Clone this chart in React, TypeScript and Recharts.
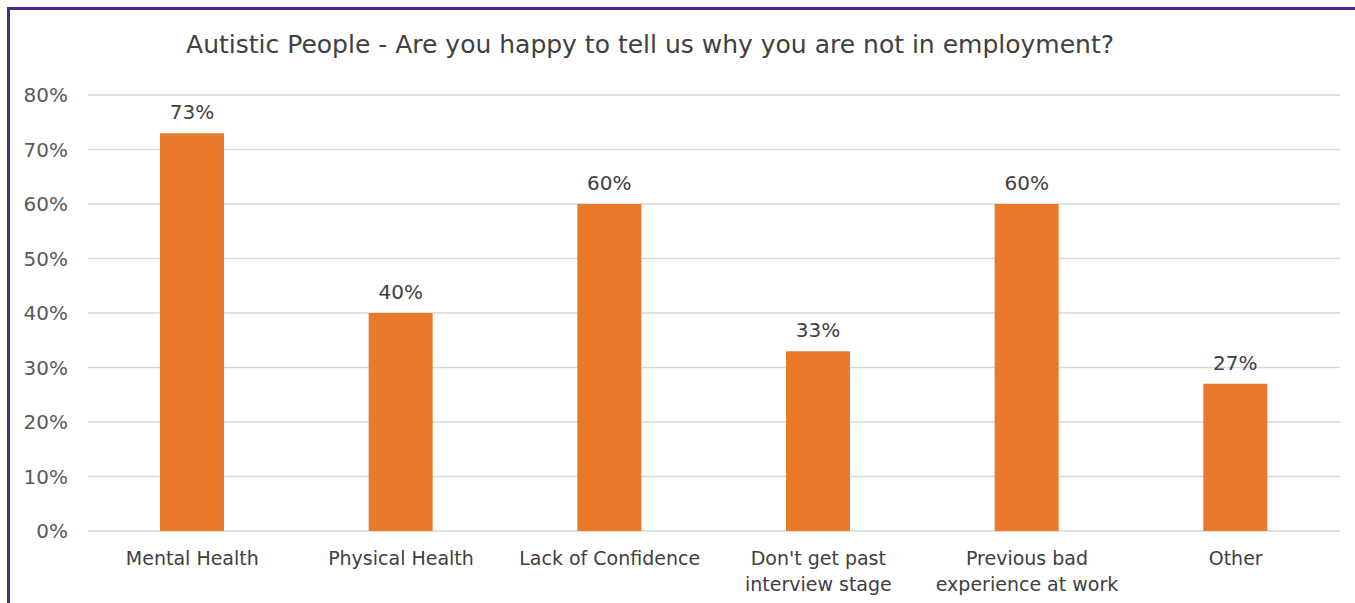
import React from "react";
import { BarChart, Bar, XAxis, YAxis, CartesianGrid, LabelList } from "recharts";

const categories = [
  "Mental Health",
  "Physical Health",
  "Lack of Confidence",
  "Don't get past\ninterview stage",
  "Previous bad\nexperience at work",
  "Other",
];
const values = [73, 40, 60, 33, 60, 27];
const yTicks = [0, 10, 20, 30, 40, 50, 60, 70, 80];
const title = "Autistic People - Are you happy to tell us why you are not in employment?";

const data = categories.map((c, i) => ({ name: c, value: values[i] }));

const FONT = "'DejaVu Sans', sans-serif";

const XTick = (props: any) => {
  const { x, y, payload } = props;
  const lines = String(payload.value).split("\n");
  return (
    <text x={x} y={y} textAnchor="middle" fill="#404040" fontSize={19} fontFamily={FONT}>
      {lines.map((l: string, i: number) => (
        <tspan key={i} x={x} dy={i === 0 ? 26 : 26}>
          {l}
        </tspan>
      ))}
    </text>
  );
};

export default function App() {
  return (
    <div style={{ position: "absolute", left: 0, top: 0, width: 1355, height: 603, background: "#fff", overflow: "hidden" }}>
      <div
        style={{
          position: "absolute",
          left: 7,
          top: 7,
          width: 1360,
          height: 610,
          borderTop: "3px solid #4b2c8c",
          borderLeft: "3px solid #4b2c8c",
          boxSizing: "border-box",
        }}
      />
      <div
        style={{
          position: "absolute",
          left: 0,
          width: 1300,
          top: 30,
          textAlign: "center",
          fontFamily: FONT,
          fontSize: 25,
          color: "#404040",
        }}
      >
        {title}
      </div>
      <div style={{ position: "absolute", left: 0, top: 0 }}>
        <BarChart
          width={1355}
          height={603}
          data={data}
          margin={{ top: 95, right: 15, bottom: 12, left: 0 }}
          barSize={64}
        >
          <CartesianGrid vertical={false} stroke="#d9d9d9" strokeWidth={1.5} />
          <XAxis
            dataKey="name"
            axisLine={false}
            tickLine={false}
            height={60}
            interval={0}
            tick={<XTick />}
          />
          <YAxis
            domain={[0, 80]}
            ticks={yTicks}
            width={88}
            axisLine={false}
            tickLine={false}
            tickSize={0}
            tickMargin={20}
            tickFormatter={(v: number) => `${v}%`}
            tick={{ fill: "#595959", fontSize: 20, fontFamily: FONT }}
          />
          <Bar dataKey="value" fill="#E97A2B" isAnimationActive={false}>
            <LabelList
              dataKey="value"
              position="top"
              offset={14}
              formatter={(v: number) => `${v}%`}
              fill="#404040"
              fontSize={20}
              fontFamily={FONT}
            />
          </Bar>
        </BarChart>
      </div>
    </div>
  );
}
